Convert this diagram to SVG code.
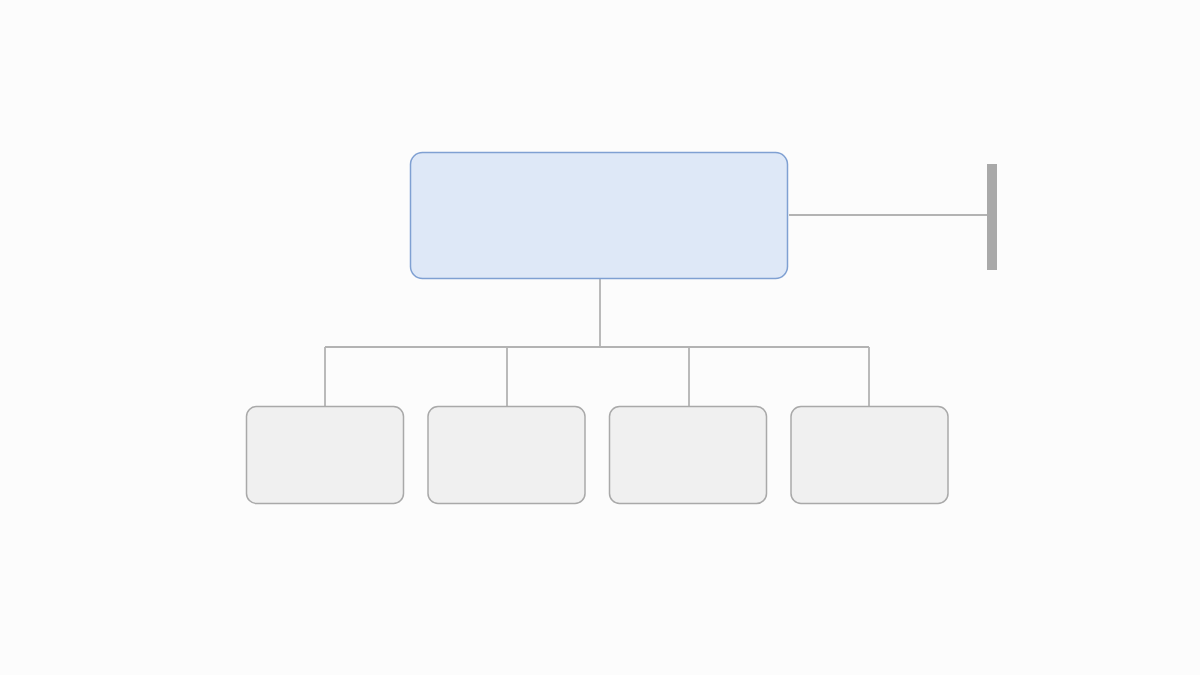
<svg xmlns="http://www.w3.org/2000/svg" width="1200" height="675" viewBox="0 0 1200 675">
<style>
.main{fill:#dee8f7;stroke:#7fa0d2;stroke-width:1.5}
.child{fill:#f0f0f0;stroke:#a9a9a9;stroke-width:1.5}
.conn{fill:none;stroke:#b3b3b3;stroke-width:1.8}
.bar{fill:#a9a9a9}
</style>
<rect width="1200" height="675" fill="#fcfcfc"/>
<g id="connectors">
<path class="conn" d="M789 215 H988"/>
<path class="conn" d="M600 279 V347 M325 347 H869 M325 347 V406 M507 347 V406 M689 347 V406 M869 347 V406"/>
</g>
<g id="main"><rect class="main" x="410.5" y="152.5" width="377" height="126" rx="12"/></g>
<g id="stop"><rect class="bar" x="987" y="164" width="10" height="106"/></g>
<g id="child1"><rect class="child" x="246.5" y="406.5" width="157" height="97" rx="10"/></g>
<g id="child2"><rect class="child" x="428" y="406.5" width="157" height="97" rx="10"/></g>
<g id="child3"><rect class="child" x="609.5" y="406.5" width="157" height="97" rx="10"/></g>
<g id="child4"><rect class="child" x="791" y="406.5" width="157" height="97" rx="10"/></g>
</svg>
